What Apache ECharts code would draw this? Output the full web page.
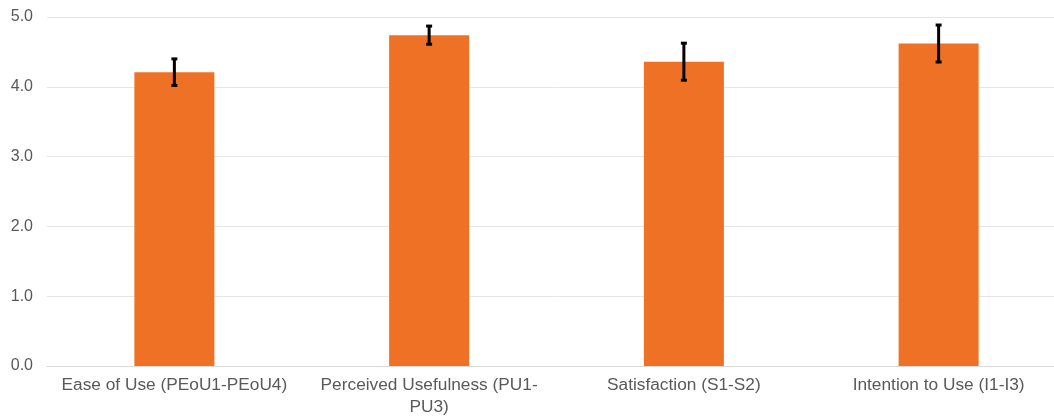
<!DOCTYPE html>
<html>
<head>
<meta charset="utf-8">
<script src="https://cdn.jsdelivr.net/npm/echarts@6/dist/echarts.min.js"></script>
<style>
html,body{margin:0;padding:0;background:#fff;overflow:hidden;width:1054px;height:418px;}
#c{width:1066px;height:418px;}
</style>
</head>
<body>
<div id="c"></div>
<script>
var categories = ['Ease of Use (PEoU1-PEoU4)', 'Perceived Usefulness (PU1-PU3)', 'Satisfaction (S1-S2)', 'Intention to Use (I1-I3)'];
var means = [4.21, 4.74, 4.36, 4.62];
var errors = [0.19, 0.13, 0.265, 0.265];
var yTicks = [0, 1, 2, 3, 4, 5];

var chart = echarts.init(document.getElementById('c'));
var errData = means.map(function (m, i) { return [i, m - errors[i], m + errors[i]]; });

chart.setOption({
  animation: false,
  grid: { left: 47, right: 0, top: 17, bottom: 52, containLabel: false },
  xAxis: {
    type: 'category',
    data: categories,
    axisLine: { show: true, lineStyle: { color: '#d9d9d9', width: 1 } },
    axisTick: { show: false },
    axisLabel: {
      color: '#595959', fontSize: 17.3, fontFamily: 'Liberation Sans, Arial, sans-serif',
      margin: 8, lineHeight: 22, interval: 0,
      formatter: function (v) { return v.replace('(PU1-PU3)', '(PU1-\nPU3)'); }
    }
  },
  yAxis: {
    type: 'value', min: yTicks[0], max: yTicks[yTicks.length - 1], interval: 1,
    axisLine: { show: false },
    axisTick: { show: false },
    splitLine: { lineStyle: { color: '#e6e6e6', width: 1 } },
    axisLabel: {
      color: '#595959', fontSize: 16, fontFamily: 'Liberation Sans, Arial, sans-serif', margin: 14,
      formatter: function (v) { return v.toFixed(1); }
    }
  },
  series: [
    {
      type: 'bar', data: means, barWidth: 80,
      itemStyle: { color: '#EF7125' }
    },
    {
      type: 'custom', data: errData, z: 10,
      renderItem: function (params, api) {
        var x = api.value(0);
        var lo = api.coord([x, api.value(1)]);
        var hi = api.coord([x, api.value(2)]);
        var cw = 3;
        var st = { stroke: '#000', lineWidth: 3 };
        return {
          type: 'group',
          children: [
            { type: 'line', shape: { x1: lo[0], y1: lo[1], x2: hi[0], y2: hi[1] }, style: st },
            { type: 'line', shape: { x1: hi[0] - cw, y1: hi[1], x2: hi[0] + cw, y2: hi[1] }, style: st },
            { type: 'line', shape: { x1: lo[0] - cw, y1: lo[1], x2: lo[0] + cw, y2: lo[1] }, style: st }
          ]
        };
      }
    }
  ]
});
</script>
</body>
</html>
